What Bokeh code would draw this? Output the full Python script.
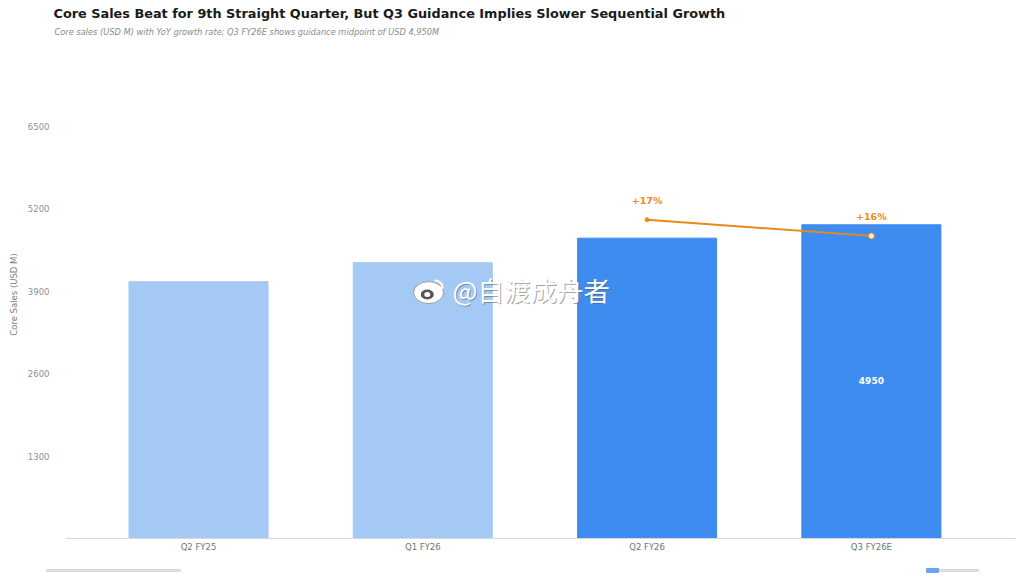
from bokeh.core.properties import value
from bokeh.embed import file_html
from bokeh.layouts import column
from bokeh.models import ColumnDataSource, FixedTicker, Label, Range1d
from bokeh.plotting import figure
from bokeh.resources import INLINE

FONT = "DejaVu Sans"

title = "Core Sales Beat for 9th Straight Quarter, But Q3 Guidance Implies Slower Sequential Growth"
subtitle = "Core sales (USD M) with YoY growth rate; Q3 FY26E shows guidance midpoint of USD 4,950M"

quarters = ["Q2 FY25", "Q1 FY26", "Q2 FY26", "Q3 FY26E"]
core_sales = [4052, 4352, 4739, 4950]
bar_colors = ["#a5c9f5", "#a5c9f5", "#3f8cf0", "#3f8cf0"]
y_ticks = [1300, 2600, 3900, 5200, 6500]

growth_quarters = [2, 3]
growth_level = [5030, 4775]
growth_labels = ["+17%", "+16%"]

positions = list(range(len(quarters)))


def blank_strip(height):
    # axis-less figure in page pixels, for what sits above and below the chart
    strip = figure(width=1016, height=height, x_range=Range1d(0, 1016), y_range=Range1d(height, 0),
                   output_backend="svg", toolbar_location=None, outline_line_color=None, frame_align=False,
                   min_border=0, x_axis_type=None, y_axis_type=None)
    strip.grid.visible = False
    return strip


header = blank_strip(50)
header.text([53], [13], text=[title], text_font=value(FONT), text_font_size="12.85px",
            text_font_style="bold", text_color="#1a1a1a", text_baseline="middle")
header.text([54], [31], text=[subtitle], text_font=value(FONT), text_font_size="8.25px",
            text_font_style="italic", text_color="#8a8a8a", text_baseline="middle")

p = figure(width=1016, height=514, frame_width=951, frame_height=488,
           x_range=Range1d(-0.593, 3.647), y_range=Range1d(0, 7700),
           output_backend="svg", toolbar_location=None, frame_align=False,
           min_border_left=65, min_border_right=0, min_border_top=0, min_border_bottom=26,
           outline_line_color=None, background_fill_color="white")

p.grid.visible = False

p.xaxis.ticker = FixedTicker(ticks=positions)
p.xaxis.major_label_overrides = dict(zip(positions, quarters))
p.xaxis.axis_line_color = "#d5d8de"
p.xaxis.major_tick_line_color = None
p.xaxis.minor_tick_line_color = None
p.xaxis.major_tick_out = 0
p.xaxis.minor_tick_out = 0
p.xaxis.major_label_text_font = FONT
p.xaxis.major_label_text_font_size = "8.5px"
p.xaxis.major_label_text_color = "#6b7280"
p.xaxis.major_label_standoff = 3

p.yaxis.ticker = FixedTicker(ticks=y_ticks)
p.yaxis.axis_line_color = None
p.yaxis.major_tick_line_color = None
p.yaxis.minor_tick_line_color = None
p.yaxis.major_tick_out = 0
p.yaxis.minor_tick_out = 0
p.yaxis.major_label_text_font = FONT
p.yaxis.major_label_text_font_size = "8.5px"
p.yaxis.major_label_text_color = "#8a909a"
p.yaxis.major_label_standoff = 16
p.yaxis.axis_label = "Core Sales (USD M)"
p.yaxis.axis_label_text_font = FONT
p.yaxis.axis_label_text_font_size = "8.5px"
p.yaxis.axis_label_text_font_style = "normal"
p.yaxis.axis_label_text_color = "#7a808a"
p.yaxis.axis_label_standoff = 6

bars = ColumnDataSource(dict(x=positions, top=core_sales, color=bar_colors))
p.vbar(x="x", top="top", width=0.62, color="color", source=bars)

# only the guidance bar carries a value label
p.text([positions[-1]], [core_sales[-1] / 2], text=[str(core_sales[-1])], y_offset=-1,
       text_font=value(FONT), text_font_size="9px", text_font_style="bold",
       text_color="white", text_align="center", text_baseline="middle")

growth = ColumnDataSource(dict(x=growth_quarters, y=growth_level, label=growth_labels))
p.line("x", "y", line_color="#e98a15", line_width=2, source=growth)
p.scatter(growth_quarters[:1], growth_level[:1], size=4, color="#e98a15")
p.scatter(growth_quarters[1:], growth_level[1:], size=6, fill_color="#fdf3e0",
          line_color="#e98a15", line_width=1)
p.text("x", "y", text="label", source=growth, y_offset=-19,
       text_font=value(FONT), text_font_size="9.5px", text_font_style="bold",
       text_color="#ee8a12", text_align="center", text_baseline="middle")

# watermark, shadow first then the white text
for dx, dy, color, alpha in [(1, -1, "#555555", 0.55), (0, 0, "white", 1.0)]:
    p.add_layout(Label(x=387 + dx, y=249 + dy, x_units="screen", y_units="screen",
                       text="@自渡成舟者", text_font="Noto Sans CJK SC", text_font_size="26.5px",
                       text_color=color, text_alpha=alpha, text_baseline="middle"))

# weibo logo of the watermark
logo_x, logo_y = 1.026, 3880
p.ellipse([logo_x], [logo_y], width=30, height=22, width_units="screen", height_units="screen",
          fill_color="white", line_color="#999999", line_width=1)
p.ellipse([logo_x - 0.006], [logo_y - 30], width=13, height=10, width_units="screen", height_units="screen",
          fill_color="#555555", line_color=None)
p.ellipse([logo_x - 0.006], [logo_y - 30], width=6, height=5, width_units="screen", height_units="screen",
          fill_color="white", line_color=None)
p.arc([logo_x + 0.03], [logo_y + 80], radius=[7, 13], radius_units="screen", start_angle=-0.2, end_angle=1.7,
      line_color="white", line_width=2)

# footer strip: the source line and legend are too blurred to read, only their marks are kept
footer = blank_strip(12)
footer.quad(left=[46, 938], right=[180, 978], bottom=[7, 7], top=[5, 5], color="#c9cbd0", alpha=0.6)
footer.quad(left=[926], right=[938], bottom=[8], top=[4], color="#6aa5ef")

open("out.html", "w").write(file_html(column(header, p, footer, spacing=0), INLINE))
